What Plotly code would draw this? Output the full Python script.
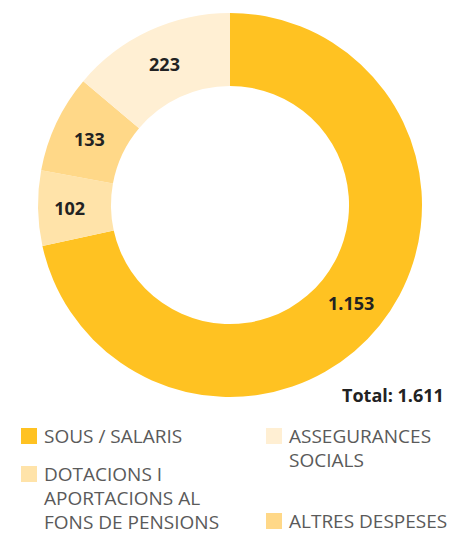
import plotly.graph_objects as go

labels = ["SOUS / SALARIS", "DOTACIONS I<br>APORTACIONS AL<br>FONS DE PENSIONS", "ALTRES DESPESES", "ASSEGURANCES<br>SOCIALS"]
values = [1153, 102, 133, 223]
colors = ["#FFC222", "#FFE3A9", "#FFD888", "#FFEFD3"]

W, H = 465, 535

def px(x):
    return x / W

def py(y):
    return 1 - y / H

fig = go.Figure(go.Pie(
    labels=labels,
    values=values,
    sort=False,
    direction="clockwise",
    rotation=0,
    hole=0.62,
    marker=dict(colors=colors, line=dict(width=0)),
    texttemplate="%{value:,}",
    textposition="inside",
    insidetextorientation="horizontal",
    textfont=dict(family="Open Sans", size=18, color="#222222", weight="bold"),
    showlegend=False,
    domain=dict(x=[px(38), px(422)], y=[py(397), py(13)]),
))

total = sum(values)
total_txt = f"{total:,}".replace(",", ".")

annotations = [dict(
    text=f"<b>Total: {total_txt}</b>", x=px(446), y=py(395), xref="paper", yref="paper",
    xanchor="right", yanchor="middle", showarrow=False,
    font=dict(family="Open Sans", size=18, color="#222222"),
)]

# legend layout: (square x, text first-line center y)
legend_pos = {
    0: (21, 436),
    3: (266, 436),
    1: (21, 474),
    2: (266, 521),
}
LINE = 24
shapes = []
for i, (sx, ty) in legend_pos.items():
    sy = ty - 8
    shapes.append(dict(type="rect", xref="paper", yref="paper",
                       x0=px(sx), x1=px(sx + 16), y0=py(sy + 16), y1=py(sy),
                       fillcolor=colors[i], line=dict(width=0)))
    for k, line in enumerate(labels[i].split("<br>")):
        annotations.append(dict(
            text=line, x=px(sx + 22), y=py(ty + k * LINE), xref="paper", yref="paper",
            xanchor="left", yanchor="middle", align="left", showarrow=False,
            borderpad=0, font=dict(family="Open Sans", size=19, color="#5a5a5a"),
        ))

fig.update_layout(
    width=W, height=H,
    margin=dict(l=0, r=0, t=0, b=0),
    paper_bgcolor="white",
    separators=",.",
    annotations=annotations,
    shapes=shapes,
)

fig.write_html("out.html")
